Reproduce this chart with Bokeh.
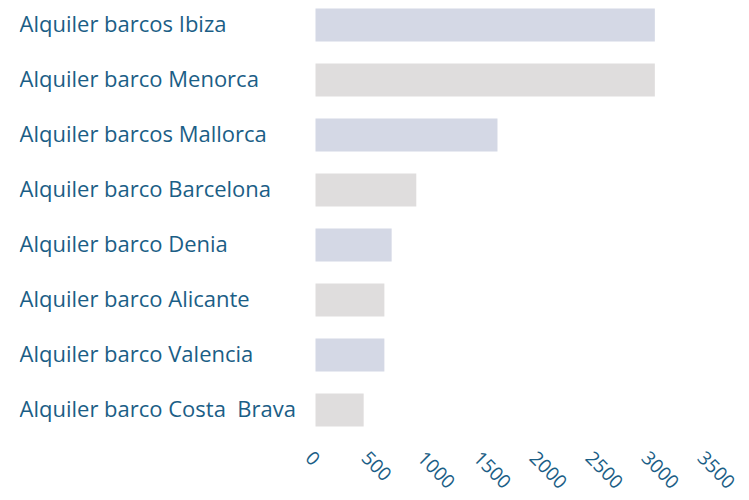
import math
from bokeh.plotting import figure
from bokeh.models import Range1d, ColumnDataSource, LabelSet
from bokeh.core.properties import value
from bokeh.embed import file_html
from bokeh.resources import INLINE

categories = ["Alquiler barcos Ibiza", "Alquiler barco Menorca", "Alquiler barcos Mallorca",
              "Alquiler barco Barcelona", "Alquiler barco Denia", "Alquiler barco Alicante",
              "Alquiler barco Valencia", "Alquiler barco Costa \u00a0Brava"]
values = [3030, 3030, 1625, 900, 680, 615, 615, 430]
colors = ["#d4d8e5", "#dfdddd", "#d4d8e5", "#dfdddd", "#d4d8e5", "#dfdddd", "#d4d8e5", "#dfdddd"]
ticks = [0, 500, 1000, 1500, 2000, 2500, 3000, 3500]
tick_labels = [str(t) for t in ticks]

TEXT = "#1b5e86"
FONT = "Open Sans"

X_START = -2643          # left edge of the frame, where the category labels start
TICK_ROW = 7.73          # vertical position of the rotated tick labels (in row units)

src = ColumnDataSource(dict(y=list(range(len(categories))), v=values, c=colors, name=categories,
                            lx=[X_START] * len(categories)))
tsrc = ColumnDataSource(dict(x=ticks, y=[TICK_ROW] * len(ticks), t=tick_labels))

p = figure(frame_width=718, frame_height=498, output_backend="svg", toolbar_location=None,
           x_range=Range1d(X_START, 3768), y_range=Range1d(8.609, -0.4455),
           min_border_left=19, min_border_right=10, min_border_top=0, min_border_bottom=0)
p.hbar(y="y", right="v", left=0, height=0.6, fill_color="c", line_color=None, source=src)

labels = LabelSet(x="lx", y="y", text="name", source=src, y_offset=2,
                  text_font=value(FONT), text_font_size=value("22px"), text_color=TEXT,
                  text_baseline="middle", text_align="left")
p.add_layout(labels)

tlabels = LabelSet(x="x", y="y", text="t", source=tsrc, angle=-math.pi / 4, x_offset=-2,
                   text_font=value(FONT), text_font_size=value("19px"), text_color=TEXT,
                   text_baseline="top", text_align="left")
p.add_layout(tlabels)

p.axis.visible = False
p.grid.visible = False
p.outline_line_color = None

open("out.html", "w").write(file_html(p, INLINE))
